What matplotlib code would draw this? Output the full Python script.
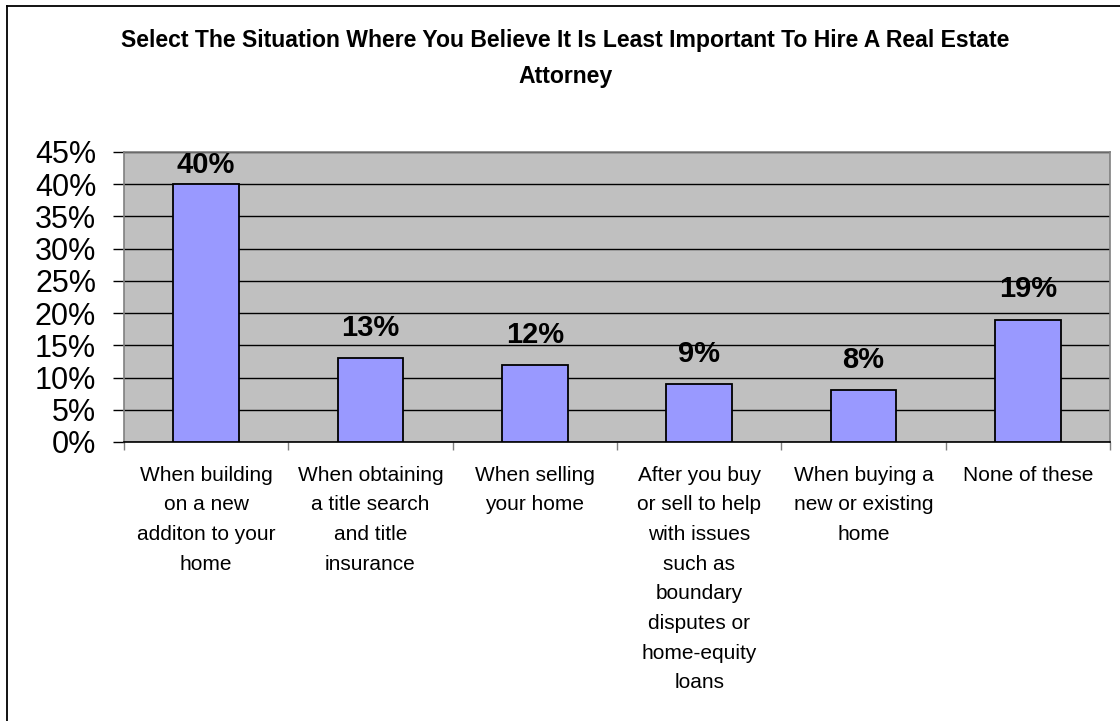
import matplotlib.pyplot as plt
import numpy as np
from matplotlib.lines import Line2D
from matplotlib.ticker import FixedLocator

plt.rcParams['font.family'] = ['Liberation Sans', 'DejaVu Sans']

# survey answers and share of respondents (%)
situations = [
    "When building\non a new\nadditon to your\nhome",
    "When obtaining\na title search\nand title\ninsurance",
    "When selling\nyour home",
    "After you buy\nor sell to help\nwith issues\nsuch as\nboundary\ndisputes or\nhome-equity\nloans",
    "When buying a\nnew or existing\nhome",
    "None of these",
]
shares = [40, 13, 12, 9, 8, 19]
yticks = [0, 5, 10, 15, 20, 25, 30, 35, 40, 45]

fig = plt.figure(figsize=(11.2, 7.21), dpi=100)
W, H = 1120, 721
ax = fig.add_axes([124 / W, 1 - 442 / H, 986 / W, 290 / H])
ax.set_facecolor('#C0C0C0')

x = np.arange(len(shares))
ax.bar(x, shares, width=0.4, color='#9999FF', edgecolor='black', linewidth=1.3, zorder=3)

# value labels sit above the bars, but stay inside the plot area
for xi, v in zip(x, shares):
    ax.text(xi, min(v + 2.5, 40.8), f"{v}%", ha='center', va='bottom',
            fontsize=21, fontweight='bold', zorder=4)

ax.set_xlim(-0.5, len(shares) - 0.5)
ax.set_ylim(0, 45)
ax.set_yticks(yticks)
ax.set_yticklabels([f"{t}%" for t in yticks], fontsize=22)
ax.tick_params(axis='y', length=8, width=1, pad=12, color='black')
ax.yaxis.grid(True, color='black', linewidth=1, zorder=1)

ax.set_xticks(x)
ax.set_xticklabels(situations, fontsize=15, linespacing=1.71, va='top')
ax.tick_params(axis='x', length=0, pad=17)
ax.xaxis.set_minor_locator(FixedLocator(np.arange(-0.5, len(shares), 1.0)))
ax.tick_params(axis='x', which='minor', length=6, width=1, color='#808080')

for side in ['top', 'right', 'left']:
    ax.spines[side].set_color('#808080')
    ax.spines[side].set_linewidth(1.2)
ax.spines['bottom'].set_color('black')
ax.spines['bottom'].set_linewidth(1.2)

fig.text(0.505, 1 - 41 / H,
         "Select The Situation Where You Believe It Is Least Important To Hire A Real Estate",
         ha='center', va='center', fontsize=16.6, fontweight='bold')
fig.text(0.505, 1 - 76 / H, "Attorney", ha='center', va='center',
         fontsize=16.6, fontweight='bold')

# chart frame along the left and top edges
fig.add_artist(Line2D([7 / W, 7 / W], [0, 1 - 6 / H], color='black', linewidth=1.3))
fig.add_artist(Line2D([7 / W, 1], [1 - 6 / H, 1 - 6 / H], color='black', linewidth=1.3))

fig.savefig('out.png', dpi=100)
